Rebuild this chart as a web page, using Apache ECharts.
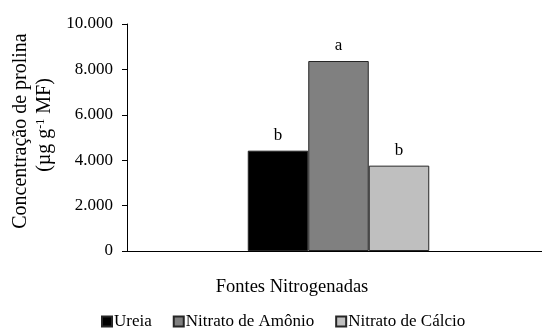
<!DOCTYPE html>
<html><head><meta charset="utf-8">
<script src="https://cdn.jsdelivr.net/npm/echarts@6/dist/echarts.min.js"></script>
<style>html,body{margin:0;padding:0;background:#fff}#c{width:542px;height:329px}</style>
</head><body><div id="c"></div>
<script>
const categories = ['Fontes Nitrogenadas'];
const seriesNames = ['Ureia', 'Nitrato de Amônio', 'Nitrato de Cálcio'];
const ureia = [4420];
const nitratoAmonio = [8370];
const nitratoCalcio = [3760];
const letters = ['b', 'a', 'b'];
const yTicks = [0, 2000, 4000, 6000, 8000, 10000];
const colors = ['#000000', '#808080', '#bfbfbf'];
const values = [ureia, nitratoAmonio, nitratoCalcio];
const FONT = 'Liberation Serif';

function fmt(v){ return v === 0 ? '0' : (v/1000).toFixed(3); }

const chart = echarts.init(document.getElementById('c'));
chart.setOption({
  animation: false,
  grid: {left: 135, right: 0, top: 24, height: 227},
  xAxis: {
    type: 'category', data: categories,
    axisLine: {lineStyle: {color: '#000', width: 1}},
    axisTick: {show: false},
    axisLabel: {show: false}
  },
  yAxis: {
    type: 'value', min: yTicks[0], max: yTicks[yTicks.length-1], interval: 2000,
    offset: 8,
    axisLine: {show: true, lineStyle: {color: '#000', width: 1}},
    axisTick: {show: true, length: 5, lineStyle: {color: '#000'}},
    splitLine: {show: false},
    axisLabel: {margin: 14, color: '#000', fontFamily: FONT, fontSize: 17, formatter: fmt}
  },
  legend: {
    top: 313, left: 101, padding: 0, itemWidth: 10, itemHeight: 10, itemGap: 21,
    icon: 'rect',
    textStyle: {fontFamily: FONT, fontSize: 17, color: '#000', padding: [0,0,0,-3]},
    data: seriesNames
  },
  series: seriesNames.map((n, i) => ({
    name: n, type: 'bar', data: values[i], barWidth: 60.5, barGap: '0%',
    itemStyle: {color: colors[i], borderColor: '#262626', borderWidth: 1},
    label: {show: true, position: 'top', distance: 7, formatter: letters[i],
      fontFamily: FONT, fontSize: 17, color: '#000'}
  })),
  graphic: [
    {type: 'line', shape: {x1: 122.5, y1: 251.5, x2: 135.5, y2: 251.5}, style: {stroke: '#000', lineWidth: 1}},
    {type: 'text', x: 21, y: 131, rotation: Math.PI/2,
      style: {text: 'Concentração de prolina', font: '20px ' + FONT, fill: '#000', align: 'center', verticalAlign: 'middle'}},
    {type: 'text', x: 45, y: 125, rotation: Math.PI/2,
      style: {text: '(µg g{s|-1} MF)', font: '20px ' + FONT, fill: '#000', align: 'center', verticalAlign: 'middle',
        rich: {s: {fontSize: 12, fontFamily: FONT, verticalAlign: 'top', padding: [0,0,8,0]}}}},
    {type: 'text', x: 292, y: 287,
      style: {text: 'Fontes Nitrogenadas', font: '18.5px ' + FONT, fill: '#000', align: 'center', verticalAlign: 'middle'}}
  ]
});
</script></body></html>
